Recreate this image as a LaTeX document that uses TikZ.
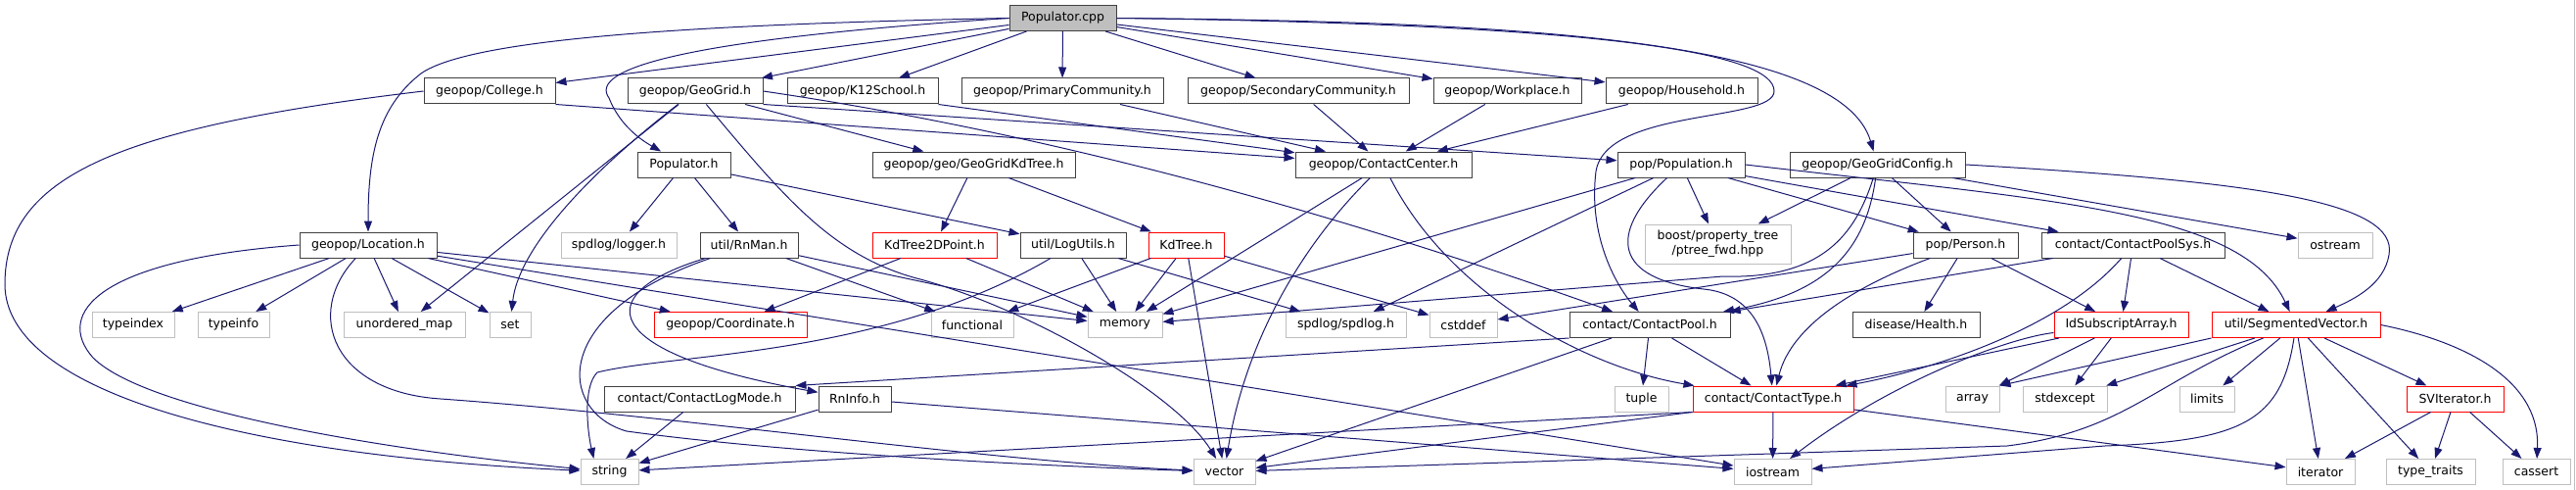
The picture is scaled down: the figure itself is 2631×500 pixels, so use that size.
\documentclass[tikz,border=0pt]{standalone}
\usepackage{fontspec}
\setmainfont{DejaVu Sans}
\usetikzlibrary{arrows.meta, positioning}
\definecolor{blunotte}{HTML}{191970}
\definecolor{grigiochiaro}{HTML}{BFBFBF}
\definecolor{rossotronco}{HTML}{FF0000}

\begin{document}
\begin{tikzpicture}[
  x=1pt, y=-1pt,
  font=\fontsize{12.5}{15}\selectfont,
  intestazione/.style={draw=black!75, line width=1pt, fill=white, inner sep=0pt,
                       minimum height=26pt, align=center},
  sistema/.style={intestazione, draw=grigiochiaro},
  troncato/.style={intestazione, draw=rossotronco},
  radice/.style={intestazione, fill=grigiochiaro},
  inclusione/.style={draw=blunotte, line width=1pt, -{Triangle[length=11pt, width=8pt]}}
]

\useasboundingbox (0,0) rectangle (2631,500);
\draw[grigiochiaro] (2629.5,0) -- (2629.5,500);

% ---- file sorgente ----------------------------------------------------
\node[radice, minimum width=109pt] (pcpp) at (1085.5,18.5) {Populator.cpp};

% ---- primo livello: centri di contatto ---------------------------------
\node[intestazione, minimum width=134pt] (college)   at (500,93)    {geopop/College.h};
\node[intestazione, minimum width=138pt] (geogrid)   at (710,93)    {geopop/GeoGrid.h};
\node[intestazione, minimum width=154pt] (k12)       at (881,93)    {geopop/K12School.h};
\node[intestazione, minimum width=206pt] (primary)   at (1085,93)   {geopop/PrimaryCommunity.h};
\node[intestazione, minimum width=226pt] (secondary) at (1326,93)   {geopop/SecondaryCommunity.h};
\node[intestazione, minimum width=151pt] (workplace) at (1539.5,93) {geopop/Workplace.h};
\node[intestazione, minimum width=155pt] (household) at (1717.5,93) {geopop/Household.h};

% ---- secondo livello ---------------------------------------------------
\node[intestazione, minimum width=95pt]  (populatorh) at (698.5,168)  {Populator.h};
\node[intestazione, minimum width=207pt] (kdgrid)     at (994.5,168)  {geopop/geo/GeoGridKdTree.h};
\node[intestazione, minimum width=180pt] (center)     at (1413,168)   {geopop/ContactCenter.h};
\node[intestazione, minimum width=130pt] (population) at (1717,168)   {pop/Population.h};
\node[intestazione, minimum width=179pt] (config)     at (1917.5,168) {geopop/GeoGridConfig.h};

% ---- terzo livello -----------------------------------------------------
\node[intestazione, minimum width=140pt] (location) at (376,250)    {geopop/Location.h};
\node[sistema,      minimum width=118pt] (logger)   at (632,250)    {spdlog/logger.h};
\node[intestazione, minimum width=100pt] (rnman)    at (765,250)    {util/RnMan.h};
\node[troncato,     minimum width=127pt] (kd2d)     at (954.5,250)  {KdTree2DPoint.h};
\node[intestazione, minimum width=108pt] (logutils) at (1096,250)   {util/LogUtils.h};
\node[troncato,     minimum width=77pt]  (kdtree)   at (1211.5,250) {KdTree.h};
\node[sistema, minimum width=149pt, minimum height=40pt] (ptree) at (1754.5,249)
  {boost/property\_tree\\/ptree\_fwd.hpp};
\node[intestazione, minimum width=107pt] (person)   at (2007.5,250) {pop/Person.h};
\node[intestazione, minimum width=187pt] (poolsys)  at (2178.5,250) {contact/ContactPoolSys.h};

% ---- quarto e quinto livello -------------------------------------------
\node[troncato,     minimum width=156pt] (coord)   at (746,331.5)    {geopop/Coordinate.h};
\node[sistema,      minimum width=123pt] (spdlog)  at (1374.5,331.5) {spdlog/spdlog.h};
\node[intestazione, minimum width=164pt] (pool)    at (1685,331.5)   {contact/ContactPool.h};
\node[intestazione, minimum width=130pt] (health)  at (1957,331.5)   {disease/Health.h};
\node[troncato,     minimum width=137pt] (idsub)   at (2166.5,331.5) {IdSubscriptArray.h};
\node[troncato,     minimum width=172pt] (segvec)  at (2345,331.5)   {util/SegmentedVector.h};
\node[intestazione, minimum width=195pt] (logmode) at (714.5,407)    {contact/ContactLogMode.h};
\node[intestazione, minimum width=74pt]  (rninfo)  at (873,407)      {RnInfo.h};
\node[troncato,     minimum width=164pt] (ctype)   at (1811,407)     {contact/ContactType.h};
\node[troncato,     minimum width=99pt]  (sviter)  at (2507.5,407)   {SVIterator.h};

% ---- intestazioni di sistema -------------------------------------------
\foreach \nome/\x/\y/\w/\testo in {
  ostream/2385/250/76/ostream,
  typeindex/136/331.5/84/typeindex,
  typeinfo/238.5/331.5/73/typeinfo,
  umap/413/331.5/124/unordered\_map,
  set/521/331.5/42/set,
  functional/993/331.5/84/functional,
  memory/1149/331.5/76/memory,
  cstddef/1494.5/331.5/69/cstddef,
  tuple/1676.5/407/55/tuple,
  array/2014.5/407/55/array,
  stdexcept/2109/407/86/stdexcept,
  limits/2254/407/56/limits,
  string/622.5/481.5/59/string,
  vector/1250.5/481.5/63/vector,
  iostream/1810.5/481.5/79/iostream,
  iterator/2370/481.5/70/iterator,
  typetraits/2482.5/481.5/91/type\_traits,
  cassert/2590.5/481.5/69/cassert} {
  \node[sistema, minimum width=\w pt] (\nome) at (\x,\y) {\testo};
}

% ---- inclusioni di Populator.cpp ---------------------------------------
\draw[inclusione] (pcpp) -- (college);
\draw[inclusione] (pcpp) -- (geogrid);
\draw[inclusione] (pcpp) -- (k12);
\draw[inclusione] (pcpp) -- (primary);
\draw[inclusione] (pcpp) -- (secondary);
\draw[inclusione] (pcpp) -- (workplace);
\draw[inclusione] (pcpp) -- (household);
\draw[inclusione] (pcpp.west) .. controls (700,40) and (600,70) .. (622,100)
  .. controls (632,125) and (650,140) .. (populatorh);
\draw[inclusione] (pcpp.west) .. controls (700,25) and (480,40) .. (430,75)
  .. controls (385,110) and (376,160) .. (location);
\draw[inclusione] (pcpp.east) .. controls (1550,22) and (1880,40) .. (config);
\draw[inclusione] (pcpp.east) .. controls (1650,25) and (1812,55) .. (1812,93)
  .. controls (1812,125) and (1640,110) .. (1630,175)
  .. controls (1622,240) and (1650,290) .. (pool);

% ---- primo livello -------------------------------------------------------
\draw[inclusione] (college.south east) -- (center);
\draw[inclusione] (college.west) .. controls (120,130) and (5,180) .. (5,290)
  .. controls (5,400) and (250,465) .. (string);
\draw[inclusione] (geogrid) -- (kdgrid);
\draw[inclusione] (geogrid.south east) -- (population);
\draw[inclusione] (geogrid.east) .. controls (1100,140) and (1400,230) .. (pool);
\draw[inclusione] (geogrid) -- (umap);
\draw[inclusione] (geogrid) .. controls (610,170) and (530,250) .. (set);
\draw[inclusione] (geogrid) .. controls (800,200) and (850,262) .. (940,285)
  .. controls (1050,315) and (1200,400) .. (vector);
\draw[inclusione] (k12.south east) -- (center);
\draw[inclusione] (primary) -- (center);
\draw[inclusione] (secondary) -- (center);
\draw[inclusione] (workplace) -- (center);
\draw[inclusione] (household) -- (center);

% ---- secondo livello -----------------------------------------------------
\draw[inclusione] (populatorh) -- (logger);
\draw[inclusione] (populatorh) -- (rnman);
\draw[inclusione] (populatorh) -- (logutils);
\draw[inclusione] (kdgrid) -- (kd2d);
\draw[inclusione] (kdgrid) -- (kdtree);
\draw[inclusione] (center) -- (memory);
\draw[inclusione] (center) .. controls (1320,260) and (1270,360) .. (vector);
\draw[inclusione] (center) .. controls (1480,300) and (1620,375) .. (ctype);
\draw[inclusione] (population) -- (ptree);
\draw[inclusione] (population) -- (person);
\draw[inclusione] (population) -- (poolsys);
\draw[inclusione] (population) -- (memory);
\draw[inclusione] (population) -- (spdlog);
\draw[inclusione] (population.east) .. controls (2100,205) and (2290,215) .. (segvec);
\draw[inclusione] (population) .. controls (1640,240) and (1650,285) .. (1740,295)
  .. controls (1790,300) and (1805,340) .. (ctype);
\draw[inclusione] (config) -- (ptree);
\draw[inclusione] (config) -- (person);
\draw[inclusione] (config) -- (ostream);
\draw[inclusione] (config) .. controls (1895,240) and (1860,285) .. (1760,282) -- (memory);
\draw[inclusione] (config) .. controls (1905,260) and (1860,300) .. (pool);
\draw[inclusione] (config.east) .. controls (2300,185) and (2450,205) .. (2440,260)
  .. controls (2435,290) and (2405,305) .. (segvec);

% ---- terzo livello -------------------------------------------------------
\draw[inclusione] (location) -- (typeindex);
\draw[inclusione] (location) -- (typeinfo);
\draw[inclusione] (location) -- (umap);
\draw[inclusione] (location) -- (set);
\draw[inclusione] (location) -- (coord);
\draw[inclusione] (location) -- (memory);
\draw[inclusione] (location) -- (iostream);
\draw[inclusione] (location.west) .. controls (100,265) and (55,320) .. (95,365)
  .. controls (150,420) and (400,460) .. (string);
\draw[inclusione] (location) .. controls (310,320) and (340,400) .. (450,407)
  .. controls (700,425) and (1000,470) .. (vector);
\draw[inclusione] (rnman) .. controls (600,300) and (610,360) .. (rninfo);
\draw[inclusione] (rnman) .. controls (560,320) and (570,420) .. (640,440)
  .. controls (800,462) and (1050,475) .. (vector);
\draw[inclusione] (rnman) -- (functional);
\draw[inclusione] (rnman) -- (memory);
\draw[inclusione] (kd2d) -- (coord);
\draw[inclusione] (kd2d) -- (memory);
\draw[inclusione] (logutils) -- (memory);
\draw[inclusione] (logutils) -- (spdlog);
\draw[inclusione] (logutils) .. controls (900,365) and (690,360) .. (610,380)
  .. controls (595,395) and (600,440) .. (string.140);
\draw[inclusione] (kdtree) -- (functional);
\draw[inclusione] (kdtree) -- (memory);
\draw[inclusione] (kdtree) -- (vector);
\draw[inclusione] (kdtree) -- (cstddef);
\draw[inclusione] (person) -- (cstddef);
\draw[inclusione] (person) -- (health);
\draw[inclusione] (person) -- (idsub);
\draw[inclusione] (person) .. controls (1900,290) and (1830,330) .. (ctype);
\draw[inclusione] (poolsys) -- (pool);
\draw[inclusione] (poolsys) -- (idsub);
\draw[inclusione] (poolsys) -- (segvec);
\draw[inclusione] (poolsys) .. controls (2100,340) and (1960,380) .. (ctype);

% ---- livelli inferiori ---------------------------------------------------
\draw[inclusione] (pool.south west) -- (logmode.north east);
\draw[inclusione] (pool) -- (tuple);
\draw[inclusione] (pool) -- (ctype);
\draw[inclusione] (pool) -- (vector);
\draw[inclusione] (idsub) -- (ctype);
\draw[inclusione] (idsub) -- (array);
\draw[inclusione] (idsub) -- (stdexcept);
\draw[inclusione] (idsub) .. controls (2050,345) and (1930,390) .. (iostream);
\draw[inclusione] (segvec.south west) -- (array.north east);
\draw[inclusione] (segvec) -- (stdexcept);
\draw[inclusione] (segvec) -- (limits);
\draw[inclusione] (segvec) -- (iterator);
\draw[inclusione] (segvec) -- (typetraits);
\draw[inclusione] (segvec) -- (sviter);
\draw[inclusione] (segvec.east) .. controls (2500,345) and (2595,380) .. (cassert);
\draw[inclusione] (segvec) .. controls (2330,430) and (2290,450) .. (2150,455) -- (iostream);
\draw[inclusione] (segvec) .. controls (2200,390) and (2170,440) .. (2050,455) -- (vector);
\draw[inclusione] (sviter) -- (iterator);
\draw[inclusione] (sviter) -- (typetraits);
\draw[inclusione] (sviter) -- (cassert);
\draw[inclusione] (logmode) -- (string);
\draw[inclusione] (rninfo) -- (string);
\draw[inclusione] (rninfo) -- (iostream);
\draw[inclusione] (ctype) -- (iostream);
\draw[inclusione] (ctype) -- (iterator);
\draw[inclusione] (ctype.south west) -- (string);
\draw[inclusione] (ctype.south west) -- (vector);

\end{tikzpicture}
\end{document}
